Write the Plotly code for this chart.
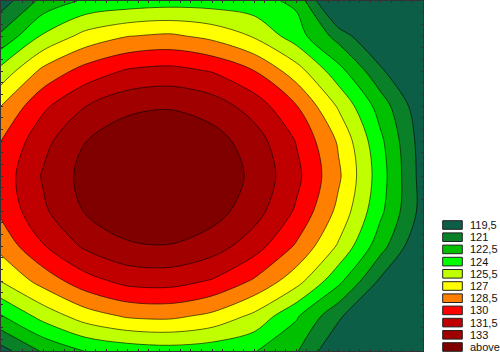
import plotly.graph_objects as go

# contour levels (band upper bounds) and legend
levels = [119.5, 121, 122.5, 124, 125.5, 127, 128.5, 130, 131.5, 133]
band_colors = ["#0c5e46", "#0a8028", "#00c000", "#00ff00", "#c0ff00", "#ffff00",
               "#ff8000", "#ff0000", "#c00000", "#a00000", "#800000"]
legend_labels = ["119,5", "121", "122,5", "124", "125,5", "127", "128,5",
                 "130", "131,5", "133", "above"]

# grid (rows listed from top to bottom)
x_grid = [0, 1, 2, 3, 4, 5, 6, 7, 8, 9, 10]
y_grid = [10, 9, 8, 7, 6, 5, 4, 3, 2, 1, 0]
z_rows = [
    [118.7, 121.5, 122.75, 123.1, 123.3, 123.25, 123.0, 122.2, 116.5, 114.0, 111.0],
    [121.3, 124.2, 126.0, 126.95, 127.25, 126.6, 125.35, 123.2, 120.4, 117.5, 115.0],
    [124.5, 127.4, 129.1, 130.18, 130.47, 129.92, 128.53, 126.2, 123.05, 119.8, 116.6],
    [127.0, 129.7, 131.47, 132.58, 132.85, 132.27, 130.84, 128.57, 125.3, 121.8, 118.3],
    [128.5, 131.04, 132.97, 134.05, 134.28, 133.67, 132.22, 129.92, 126.8, 122.8, 118.7],
    [129.1, 131.65, 133.52, 134.57, 134.77, 134.13, 132.65, 130.4, 127.25, 123.15, 118.8],
    [128.8, 131.25, 133.12, 134.14, 134.32, 133.65, 132.14, 129.79, 126.6, 122.8, 118.9],
    [127.5, 129.9, 131.78, 132.78, 132.93, 132.23, 130.69, 128.31, 125.3, 121.6, 117.9],
    [125.55, 127.6, 129.4, 130.47, 130.59, 129.87, 128.3, 126.1, 122.9, 119.2, 116.0],
    [122.4, 124.55, 126.25, 127.2, 127.35, 126.65, 125.15, 122.7, 119.8, 117.0, 114.5],
    [118.9, 121.2, 122.55, 123.1, 123.35, 123.1, 122.6, 121.15, 118.0, 115.5, 113.0],
]

n = len(band_colors)
colorscale = [[i / (n - 1), c] for i, c in enumerate(band_colors)]
step = levels[1] - levels[0]

fig = go.Figure()
fig.add_trace(go.Contour(
    x=x_grid,
    y=y_grid[::-1],
    z=z_rows[::-1],
    autocontour=False,
    contours=dict(start=levels[0], end=levels[-1], size=step,
                  coloring="fill", showlines=True),
    colorscale=colorscale,
    showscale=False,
    line=dict(color="rgba(0,0,0,0.75)", width=0.8, smoothing=0.9),
    hoverinfo="skip",
))

W, H = 500, 354
ml, mr, mt, mb = 1, 77, 1, 3
pw = W - ml - mr
ph = H - mt - mb


def px_x(px):
    return (px - ml) / pw


def px_y(py):
    return (H - mb - py) / ph


shapes = []
annotations = []
box_x0, box_x1 = 442.7, 462.3
first_top, row_gap, box_h = 220.7, 12.2, 8.6
for k, (c, lab) in enumerate(zip(band_colors, legend_labels)):
    top = first_top + row_gap * k
    shapes.append(dict(type="rect", xref="paper", yref="paper",
                       x0=px_x(box_x0), x1=px_x(box_x1),
                       y0=px_y(top + box_h), y1=px_y(top),
                       fillcolor=c, line=dict(color="#222222", width=1)))
    annotations.append(dict(xref="paper", yref="paper", x=px_x(467.5),
                            y=px_y(top + box_h / 2), text=lab, showarrow=False,
                            xanchor="left", yanchor="middle",
                            font=dict(family="Liberation Sans, Arial", size=11,
                                      color="#111111")))

axis_common = dict(showline=True, linecolor="#333333", linewidth=1, mirror="ticks",
                   ticks="inside", ticklen=2, tickcolor="#333333", tickwidth=1,
                   showticklabels=False, showgrid=False, zeroline=False)
fig.update_layout(
    width=W, height=H,
    margin=dict(l=ml, r=mr, t=mt, b=mb),
    paper_bgcolor="white", plot_bgcolor="white",
    xaxis=dict(range=[0, 10], tick0=0, dtick=0.25, **axis_common),
    yaxis=dict(range=[0, 10], tick0=0, dtick=10 / 30, **axis_common),
    shapes=shapes,
    annotations=annotations,
    showlegend=False,
)
fig.write_html("out.html")
